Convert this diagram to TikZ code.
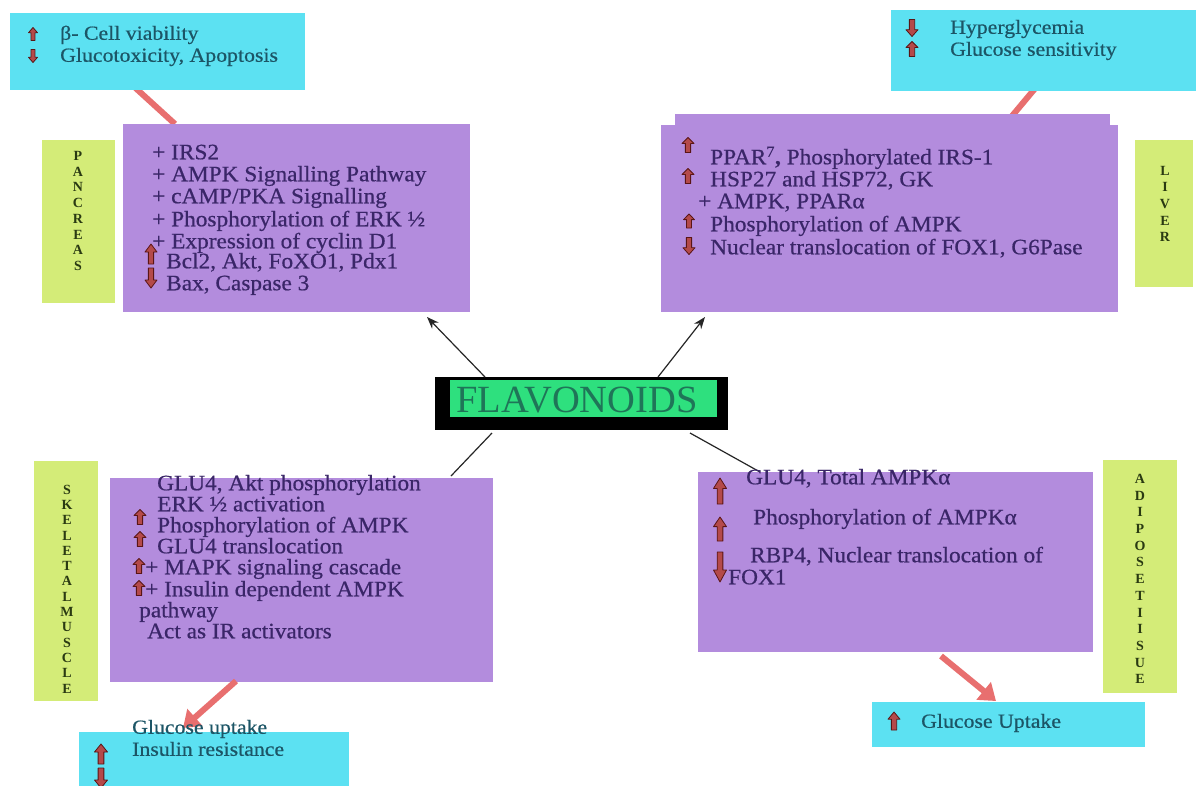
\documentclass[tikz,border=0pt]{standalone}
\usepackage{fontspec}
\setmainfont{Liberation Serif}
\newfontfamily\widefont[FakeStretch=1.06,FakeBold=0.6]{Liberation Serif}
\newfontfamily\widerfont[FakeStretch=1.09,FakeBold=0.6]{Liberation Serif}
\usetikzlibrary{arrows.meta,backgrounds}
\definecolor{cyanbox}{HTML}{5CE1F2}
\definecolor{purplebox}{HTML}{B38CDD}
\definecolor{labelgreen}{HTML}{D4EC78}
\definecolor{flavgreen}{HTML}{2EE07E}
\definecolor{flavtxt}{HTML}{1F7558}
\definecolor{ptxt}{HTML}{3A2668}
\definecolor{ctxt}{HTML}{1C5566}
\definecolor{ltxt}{HTML}{2A3A12}
\definecolor{pinkarrow}{HTML}{E86F6F}
\definecolor{iconred}{HTML}{B44A4A}
\definecolor{icondark}{HTML}{5A1515}
\tikzset{
  box/.style={anchor=north west, inner sep=0pt, outer sep=0pt},
  cbox/.style={box, fill=cyanbox},
  pbox/.style={box, fill=purplebox},
  gbox/.style={box, fill=labelgreen},
  ptext/.style={anchor=west, inner sep=0pt, text height=0.7em, text depth=0.25em, yshift=-2pt,
    font=\widefont\fontsize{22}{24}\selectfont, text=ptxt},
  ctext/.style={anchor=west, inner sep=0pt, text height=0.7em, text depth=0.25em, yshift=-2.5pt,
    font=\widerfont\fontsize{20}{22}\selectfont, text=ctxt},
  vlabel/.style={align=center, inner sep=0pt, text=ltxt},
  icon/.style={fill=iconred, draw=icondark, line width=0.8pt, line join=round},
  upicon/.pic={\path[icon] (0,-0.5) -- (0.5,-0.1) -- (0.22,-0.1) -- (0.22,0.5) -- (-0.22,0.5) -- (-0.22,-0.1) -- (-0.5,-0.1) -- cycle;},
  downicon/.pic={\path[icon] (0,0.5) -- (0.5,0.1) -- (0.22,0.1) -- (0.22,-0.5) -- (-0.22,-0.5) -- (-0.22,0.1) -- (-0.5,0.1) -- cycle;},
  conn/.style={draw=black!85, line width=1.2pt},
  pinkarr/.style={draw=pinkarrow, line width=6pt, -{Triangle[length=16pt,width=22pt]}},
}
\begin{document}
\begin{tikzpicture}[x=1pt,y=-1pt]
\useasboundingbox (0,0) rectangle (1196,785);

% ---------- outcome boxes (cyan) ----------
\node[cbox, minimum width=295pt, minimum height=77pt] (tlc) at (10,13) {};
\node[cbox, minimum width=305pt, minimum height=81pt] (trc) at (891,10) {};
\node[cbox, minimum width=270pt, minimum height=55pt] (blc) at (79,732) {};
\node[cbox, minimum width=273pt, minimum height=45pt] (brc) at (872,702) {};

% ---------- organ boxes (purple) ----------
\node[pbox, minimum width=347pt, minimum height=188pt] (panc) at (123,124) {};
\fill[purplebox] (675,114) rectangle (1110,126);
\node[pbox, minimum width=457pt, minimum height=187pt] (liver) at (661,125) {};
\node[pbox, minimum width=383pt, minimum height=204pt] (skel) at (110,478) {};
\node[pbox, minimum width=395pt, minimum height=180pt] (adip) at (698,472) {};

% ---------- organ labels (green) ----------
\node[gbox, minimum width=73pt, minimum height=163pt] (pancl) at (42,140) {};
\node[vlabel, font=\bfseries\fontsize{14}{15.7}\selectfont] (panct) at (78,211) {P\\A\\N\\C\\R\\E\\A\\S};
\node[gbox, minimum width=58pt, minimum height=147pt] (liverl) at (1135,140) {};
\node[vlabel, font=\bfseries\fontsize{14}{16.7}\selectfont] (livert) at (1165,204) {L\\I\\V\\E\\R};
\node[gbox, minimum width=64pt, minimum height=240pt] (skell) at (34,461) {};
\node[vlabel, font=\bfseries\fontsize{14}{15.3}\selectfont] (skelt) at (67,589) {S\\K\\E\\L\\E\\T\\A\\L\\M\\U\\S\\C\\L\\E};
\node[gbox, minimum width=74pt, minimum height=233pt] (adipl) at (1103,460) {};
\node[vlabel, font=\bfseries\fontsize{14}{16.7}\selectfont] (adipt) at (1140,579) {A\\D\\I\\P\\O\\S\\E\\T\\I\\I\\S\\U\\E};

% ---------- central node ----------
\node[box, fill=black, minimum width=293pt, minimum height=53pt] (flav) at (435,377) {};
\node[box, fill=flavgreen, minimum width=267pt, minimum height=37pt] (flavin) at (450,380) {};
\node[inner sep=0pt, font=\fontsize{38.5}{40}\selectfont, text=flavtxt] (flavt) at (577,400) {FLAVONOIDS};

% ---------- connectors from FLAVONOIDS ----------
\draw[conn, -{Stealth[length=12pt,width=9pt]}] ([xshift=50pt]flav.north west) -- ([xshift=-43pt,yshift=-5pt]panc.south east);
\draw[conn, -{Stealth[length=12pt,width=9pt]}] ([xshift=-70pt]flav.north east) -- ([xshift=44pt,yshift=-5pt]liver.south west);
\coordinate (skelin) at ([xshift=-42pt,yshift=2pt]skel.north east);
\coordinate (adipin) at ([xshift=62pt]adip.north west);
\draw[conn] ([xshift=57pt,yshift=-3pt]flav.south west) -- (skelin);
\draw[conn] ([xshift=-38pt,yshift=-3pt]flav.south east) -- (adipin);

% ---------- pink arrows (organ -> outcome) ----------
\begin{scope}[on background layer]
\fill[white] (0,0) rectangle (1196,785);
\draw[pinkarr] ([xshift=52pt]panc.north west) -- ([xshift=97pt,yshift=28pt]tlc.south west);
\draw[pinkarr] (1012,116) -- ([xshift=167pt,yshift=30pt]trc.south west);
\end{scope}
\draw[pinkarr] ([xshift=126pt,yshift=1pt]skel.south west) -- ([xshift=104pt,yshift=4pt]blc.north west);
\draw[pinkarr] ([xshift=243pt,yshift=-4pt]adip.south west) -- ([xshift=124pt,yshift=1pt]brc.north west);

% ---------- top-left outcome text ----------
\pic[xscale=9,yscale=13] at (33,34) {upicon};
\pic[xscale=9,yscale=13] at (33,56) {downicon};
\node[ctext] (tl1) at (60,35) {β- Cell viability};
\node[ctext] (tl2) at (60,57) {Glucotoxicity, Apoptosis};

% ---------- top-right outcome text ----------
\pic[xscale=12,yscale=17] at (912,28) {downicon};
\pic[xscale=12,yscale=15] at (912,49) {upicon};
\node[ctext] (tr1) at (950,29) {Hyperglycemia};
\node[ctext] (tr2) at (950,51) {Glucose sensitivity};

% ---------- pancreas text ----------
\node[ptext] (pa1) at (152,155) {+ IRS2};
\node[ptext] (pa2) at (152,177) {+ AMPK Signalling Pathway};
\node[ptext] (pa3) at (152,199) {+ cAMP/PKA Signalling};
\node[ptext] (pa4) at (152,222) {+ Phosphorylation of ERK ½};
\node[ptext] (pa5) at (152,244) {+ Expression of cyclin D1};
\node[ptext] (pa6) at (166,264) {Bcl2, Akt, FoXO1, Pdx1};
\node[ptext] (pa7) at (166,286) {Bax, Caspase 3};
\pic[xscale=12,yscale=20] at (151,254) {upicon};
\pic[xscale=12,yscale=20] at (151,278) {downicon};

% ---------- liver text ----------
\pic[xscale=12,yscale=15] at (688,145) {upicon};
\node[ptext] (li1) at (710,160) {PPAR\textsuperscript{7}\textbf{,} Phosphorylated IRS-1};
\pic[xscale=12,yscale=15] at (688,176) {upicon};
\node[ptext] (li2) at (710,182) {HSP27 and HSP72, GK};
\node[ptext] (li3) at (698,204) {+ AMPK, PPARα};
\pic[xscale=11,yscale=14] at (689,221) {upicon};
\node[ptext] (li4) at (710,227) {Phosphorylation of AMPK};
\pic[xscale=12,yscale=17] at (689,246) {downicon};
\node[ptext] (li5) at (710,250) {Nuclear translocation of FOX1, G6Pase};

% ---------- skeletal muscle text ----------
\node[ptext] (sk1) at (157,486) {GLU4, Akt phosphorylation};
\node[ptext] (sk2) at (157,507) {ERK ½ activation};
\pic[xscale=12,yscale=15] at (140,517) {upicon};
\node[ptext] (sk3) at (157,528) {Phosphorylation of AMPK};
\pic[xscale=12,yscale=15] at (140,539) {upicon};
\node[ptext] (sk4) at (157,549) {GLU4 translocation};
\pic[xscale=12,yscale=15] at (139,566) {upicon};
\node[ptext] (sk5) at (145,570) {+ MAPK signaling cascade};
\pic[xscale=12,yscale=15] at (139,588) {upicon};
\node[ptext] (sk6) at (145,592) {+ Insulin dependent AMPK};
\node[ptext] (sk7) at (139,613) {pathway};
\node[ptext] (sk8) at (147,634) {Act as IR activators};

% ---------- adipose tissue text ----------
\pic[xscale=13,yscale=26] at (720,491) {upicon};
\node[ptext] (ad1) at (746,480) {GLU4, Total AMPKα};
\pic[xscale=13,yscale=24] at (720,529) {upicon};
\node[ptext] (ad2) at (753,520) {Phosphorylation of AMPKα};
\pic[xscale=13,yscale=30] at (720,567) {downicon};
\node[ptext] (ad3) at (750,558) {RBP4, Nuclear translocation of};
\node[ptext] (ad4) at (728,580) {FOX1};

% ---------- bottom outcome text ----------
\node[ctext] (bl1) at (132,729) {Glucose uptake};
\node[ctext] (bl2) at (132,751) {Insulin resistance};
\pic[xscale=13,yscale=20] at (101,754) {upicon};
\pic[xscale=13,yscale=20] at (101,778) {downicon};

\pic[xscale=12,yscale=18] at (894,721) {upicon};
\node[ctext] (br1) at (921,723) {Glucose Uptake};
\end{tikzpicture}
\end{document}
